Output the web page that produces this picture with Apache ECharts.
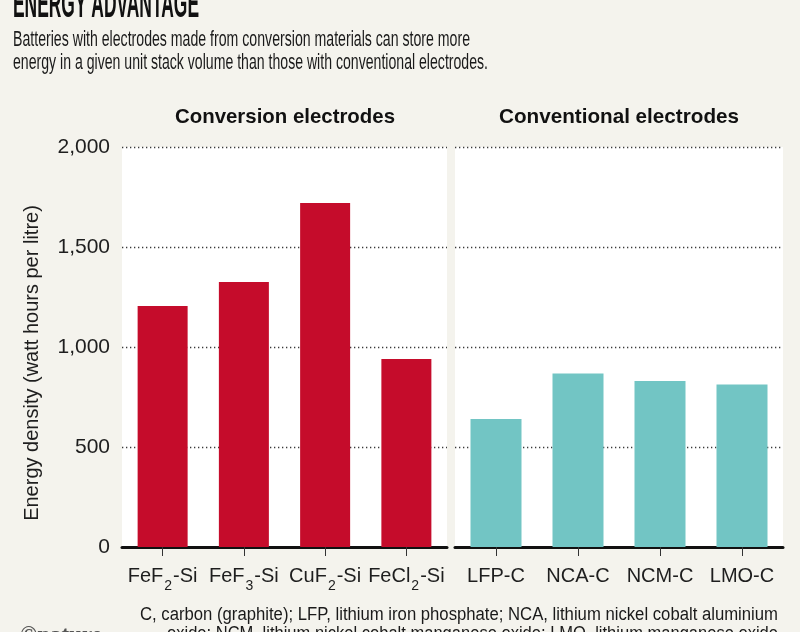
<!DOCTYPE html>
<html><head><meta charset="utf-8">
<script src="https://cdn.jsdelivr.net/npm/echarts@6/dist/echarts.min.js"></script>
<style>html,body{margin:0;padding:0;background:#f4f3ed}#c{width:800px;height:632px}</style>
</head><body><div id="c"></div>
<script>
// ---- data ----
const conversionCategories = ['FeF2-Si', 'FeF3-Si', 'CuF2-Si', 'FeCl2-Si'];
const conversionValues = [1205, 1325, 1720, 940];
const conventionalCategories = ['LFP-C', 'NCA-C', 'NCM-C', 'LMO-C'];
const conventionalValues = [640, 868, 830, 812];
const yMin = 0, yMax = 2000, yStep = 500;

const titleText = 'ENERGY ADVANTAGE';
const subtitleLines = [
  'Batteries with electrodes made from conversion materials can store more',
  'energy in a given unit stack volume than those with conventional electrodes.'
];
const panelTitles = ['Conversion electrodes', 'Conventional electrodes'];
const yAxisTitle = 'Energy density (watt hours per litre)';
const footnoteLines = [
  'C, carbon (graphite); LFP, lithium iron phosphate; NCA, lithium nickel cobalt aluminium',
  'oxide; NCM, lithium nickel cobalt manganese oxide; LMO, lithium manganese oxide'
];

// ---- helpers ----
const mctx = document.createElement('canvas').getContext('2d');
function fitScale(text, font, target) {
  mctx.font = font;
  return target / mctx.measureText(text).width;
}
function txt(text, x, y, font, target, opts) {
  opts = opts || {};
  const s = target ? fitScale(text, font, target) : 1;
  return {
    type: 'text', x: x, y: y, scaleX: s, silent: true,
    style: {
      text: text, font: font, fill: opts.fill || '#1a1a1a',
      align: opts.align || 'left', verticalAlign: opts.va || 'middle'
    }
  };
}
// wrap label text in rich tokens; digits following a letter become subscripts
const subFmt = v => v.split(/(?<=[A-Za-z])(\d)/).filter(p => p !== '')
  .map(p => /^\d$/.test(p) ? '{s|' + p + '}' : '{a|' + p + '}').join('');
const FONT = '"Liberation Sans", Arial, sans-serif';

const chart = echarts.init(document.getElementById('c'));

const gridBase = { top: 147, height: 400, show: true, backgroundColor: '#ffffff', borderWidth: 0 };
const splitLine = { show: true, lineStyle: { color: '#3a3a3a', width: 1.3, type: [1.3, 2.7] } };

function xAxisFor(idx, cats) {
  return {
    type: 'category', gridIndex: idx, data: cats,
    axisLine: { show: true, lineStyle: { color: '#111', width: 3 } },
    axisTick: { show: true, alignWithLabel: true, length: 9, lineStyle: { color: '#333', width: 1 } },
    axisLabel: {
      interval: 0, margin: 23, color: '#1e1e1e', fontFamily: FONT, fontSize: 20,
      formatter: v => subFmt(v),
      rich: {
        a: { fontSize: 20, fontFamily: FONT, color: '#1e1e1e', lineHeight: 20, padding: [0, 0, 7, 0] },
        s: { fontSize: 14, fontFamily: FONT, color: '#1e1e1e', lineHeight: 14, padding: [13, 1, 0, 1] }
      }
    }
  };
}
function yAxisFor(idx, labels) {
  const ax = {
    type: 'value', gridIndex: idx, min: yMin, max: yMax, interval: yStep,
    axisLine: { show: false }, axisTick: { show: false },
    splitLine: splitLine,
    axisLabel: labels ? {
      show: true, margin: 12, color: '#1e1e1e', fontFamily: FONT, fontSize: 21,
      formatter: v => v.toLocaleString('en-US')
    } : { show: false }
  };
  if (labels) {
    ax.name = yAxisTitle;
    ax.nameLocation = 'middle';
    ax.nameRotate = 90;
    ax.nameGap = 80;
    ax.nameTextStyle = { fontFamily: FONT, fontSize: 20, color: '#1e1e1e', padding: [0, 32, 0, 0] };
  }
  return ax;
}

const option = {
  backgroundColor: '#f4f3ed',
  animation: false,
  grid: [
    Object.assign({ left: 122, width: 325 }, gridBase),
    Object.assign({ left: 455, width: 328 }, gridBase)
  ],
  xAxis: [xAxisFor(0, conversionCategories), xAxisFor(1, conventionalCategories)],
  yAxis: [yAxisFor(0, true), yAxisFor(1, false)],
  series: [
    { type: 'bar', name: panelTitles[0], xAxisIndex: 0, yAxisIndex: 0, data: conversionValues,
      barWidth: 50, itemStyle: { color: '#c50c2b' } },
    { type: 'bar', name: panelTitles[1], xAxisIndex: 1, yAxisIndex: 1, data: conventionalValues,
      barWidth: 51, itemStyle: { color: '#72c5c4' } }
  ],
  graphic: [
    txt(titleText, 13, 6, 'bold 40px ' + FONT, 186, { fill: '#111' }),
    txt(subtitleLines[0], 13, 40, '22px ' + FONT, 457),
    txt(subtitleLines[1], 13, 63, '22px ' + FONT, 475),
    txt(panelTitles[0], 175, 117, 'bold 21px ' + FONT, 220, { fill: '#111' }),
    txt(panelTitles[1], 499, 117, 'bold 21px ' + FONT, 240, { fill: '#111' }),
    txt(footnoteLines[0], 140, 615, '18px ' + FONT, 638),
    txt(footnoteLines[1], 167, 634, '18px ' + FONT, 611),
    txt('\u00a9nature', 20, 636, 'bold 26px "Liberation Serif", serif', 82, { fill: '#555' })
  ]
};
chart.setOption(option);
</script></body></html>
